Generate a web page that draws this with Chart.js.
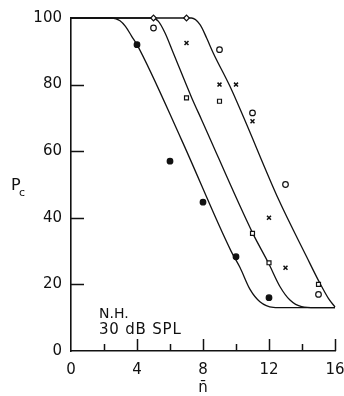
<!DOCTYPE html>
<html>
<head>
<meta charset="utf-8">
<script src="https://cdn.jsdelivr.net/npm/chart.js@4/dist/chart.umd.min.js"></script>
<style>
  html, body { margin: 0; padding: 0; background: #fff; }
  #wrap { width: 344px; height: 396px; }
</style>
</head>
<body>
<div id="wrap"><canvas id="pc" width="344" height="396"></canvas></div>
<script>
// ─── data ────────────────────────────────────────────
// measured points, one array pair per symbol
const nFilled  = [4, 6, 8, 10, 12];
const pFilled  = [92, 57, 44.7, 28.3, 16];
const nSquare  = [7, 9, 11, 12, 15];
const pSquare  = [76, 75, 35.3, 26.5, 20];
const nCross   = [7, 9, 10, 11, 12, 13];
const pCross   = [92.5, 80, 80, 69, 40, 25];
const nCircle  = [5, 9, 11, 13, 15];
const pCircle  = [97, 90.5, 71.5, 50, 17];
const nDiamond = [5, 7];
const pDiamond = [100, 100];

// fitted curves
const curveA_n = [0, 2.5, 2.97, 3.3, 3.68, 4, 6.7, 9.7, 10.25, 10.85, 11.45, 12.26, 13, 16];
const curveA_p = [100, 100, 99.2, 97.5, 94.5, 92, 63.4, 30, 25, 18.5, 14.8, 13.1, 13, 13];
const curveB_n = [0, 4.9, 5.3, 5.7, 6.2, 7.32, 7.92, 11.01, 11.96, 12.67, 13.27, 13.98, 14.8, 16];
const curveB_p = [100, 100, 99, 95.5, 89.5, 76, 69.4, 35.4, 26.5, 19.3, 15.3, 13.3, 13, 13];
const curveC_n = [0, 7.3, 7.82, 8.22, 8.62, 9.64, 10.44, 12.59, 14.28, 15.09, 15.6, 16];
const curveC_p = [100, 100, 98, 94, 89.5, 79.4, 70.4, 45.4, 28.3, 20.3, 15.8, 13.2];

// axis marks
const yTickMarks  = [20, 40, 60, 80];
const xMajorMarks = [4, 8, 12, 16];
const xMinorMarks = [2, 6, 10, 14];

const INK  = '#111';
const FONT = "'DejaVu Sans', sans-serif";

const xy = (xs, ys) => xs.map((v, i) => ({ x: v, y: ys[i] }));

function markers(xs, ys, style, filled, lw = 1.2) {
  return {
    data: xy(xs, ys),
    pointStyle: style,
    pointRadius: 2.8,
    pointBorderWidth: lw,
    pointBorderColor: INK,
    pointBackgroundColor: filled ? INK : '#fff',
    showLine: false,
    clip: false,
    order: 1,
  };
}

function curve(xs, ys) {
  return {
    data: xy(xs, ys),
    showLine: true,
    borderColor: INK,
    borderWidth: 1.3,
    pointRadius: 0,
    cubicInterpolationMode: 'monotone',
    clip: false,
    order: 2,
  };
}

// inward ticks, annotation and axis titles
const axisMarks = {
  id: 'axisMarks',
  afterDraw(chart) {
    const { ctx, scales: { x, y } } = chart;
    const base = y.getPixelForValue(0);
    ctx.save();
    ctx.strokeStyle = INK;
    ctx.lineWidth = 1.5;
    ctx.beginPath();
    yTickMarks.forEach(v => {
      const py = Math.round(y.getPixelForValue(v)) + 0.5;
      ctx.moveTo(x.left, py); ctx.lineTo(x.left + 13, py);
    });
    xMajorMarks.forEach(v => {
      const px = Math.round(x.getPixelForValue(v)) + 0.5;
      ctx.moveTo(px, base); ctx.lineTo(px, base - 12);
    });
    xMinorMarks.forEach(v => {
      const px = Math.round(x.getPixelForValue(v)) + 0.5;
      ctx.moveTo(px, base); ctx.lineTo(px, base - 7);
    });
    ctx.stroke();

    ctx.fillStyle = INK;
    ctx.textBaseline = 'alphabetic';
    ctx.textAlign = 'left';
    ctx.font = `14px ${FONT}`;
    ctx.fillText('N.H.', 99, 318);
    ctx.font = `15px ${FONT}`;
    ctx.letterSpacing = '0.8px';
    ctx.fillText('30 dB SPL', 99, 334);
    ctx.letterSpacing = '0px';

    // y title P with subscript c
    ctx.font = `16px ${FONT}`;
    ctx.fillText('P', 11, 190);
    ctx.font = `11px ${FONT}`;
    ctx.fillText('c', 19, 196);

    // x title n-bar
    ctx.font = `15px ${FONT}`;
    ctx.textAlign = 'center';
    ctx.fillText('n\u0304', x.getPixelForValue(8), 392);
    ctx.restore();
  }
};

new Chart(document.getElementById('pc'), {
  type: 'scatter',
  data: {
    datasets: [
      markers(nFilled, pFilled, 'circle', true),
      markers(nSquare, pSquare, 'rect', false),
      markers(nCross, pCross, 'crossRot', false, 1.5),
      markers(nCircle, pCircle, 'circle', false),
      markers(nDiamond, pDiamond, 'rectRot', false),
      curve(curveA_n, curveA_p),
      curve(curveB_n, curveB_p),
      curve(curveC_n, curveC_p),
    ],
  },
  options: {
    responsive: false,
    animation: false,
    devicePixelRatio: 1,
    layout: { padding: { top: 18, right: 9, left: 0, bottom: 0 } },
    plugins: { legend: { display: false }, tooltip: { enabled: false } },
    scales: {
      x: {
        type: 'linear', min: 0, max: 16,
        grid: { display: false, drawTicks: false },
        border: { display: true, color: INK, width: 1.6 },
        ticks: { stepSize: 4, padding: 10, color: INK, font: { family: FONT, size: 15 }, maxRotation: 0 },
        afterFit(scale) { scale.height = 45; scale.paddingLeft = 0; scale.paddingRight = 0; },
      },
      y: {
        type: 'linear', min: 0, max: 100,
        grid: { display: false, drawTicks: false },
        border: { display: true, color: INK, width: 1.6 },
        ticks: { stepSize: 20, padding: 9, color: INK, font: { family: FONT, size: 15 } },
        afterFit(scale) { scale.width = 71; scale.paddingTop = 0; scale.paddingBottom = 0; },
      },
    },
  },
  plugins: [axisMarks],
});
</script>
</body>
</html>
